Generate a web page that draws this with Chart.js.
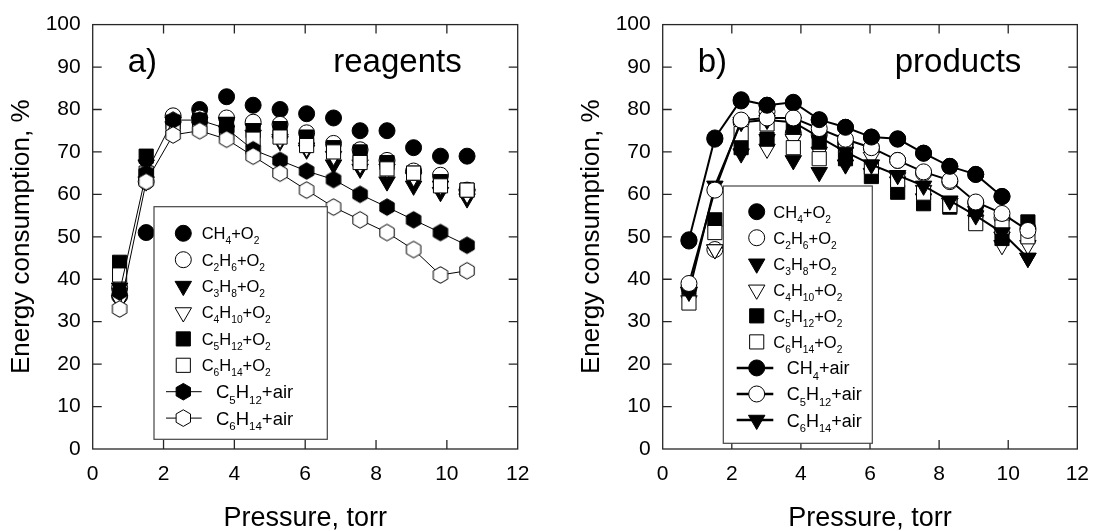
<!DOCTYPE html>
<html><head><meta charset="utf-8">
<script src="https://cdn.jsdelivr.net/npm/chart.js@4.4.1/dist/chart.umd.min.js"></script>
<style>
html,body{margin:0;padding:0;background:#fff;}
#wrap{position:relative;width:1102px;height:531px;overflow:hidden;}
canvas{position:absolute;top:0;}
</style></head><body>
<div id="wrap">
<canvas id="c1" width="551" height="531" style="left:0"></canvas>
<canvas id="c2" width="551" height="531" style="left:551px"></canvas>
</div>
<script>
// ---------------- data ----------------
const pressure = [0.76, 1.51, 2.27, 3.02, 3.78, 4.53, 5.29, 6.04, 6.8, 7.55, 8.31, 9.06, 9.82, 10.57];
const xTicks = [0, 2, 4, 6, 8, 10, 12];
const yTicks = [0, 10, 20, 30, 40, 50, 60, 70, 80, 90, 100];

// panel a) reagents
const aCH4_O2    = [36, 51, null, 80, 83, 81, 80, 79, 78, 75, 75, 71, 69, 69];
const aC2H6_O2   = [38, 63, 78.5, 78, 78, 77, 76.5, 74.5, 72, 70.5, 68, 65.5, 64.5, 61];
const aC3H8_O2   = [38, 67, 77, 77, 77, 75.5, 72.5, 70.5, 67, 66, 63, 62, 60.5, 59];
const aC4H10_O2  = [35, 63, 76, 76, 75, 74, 73, 71, 69, 67, 66, 64, 62, 60];
const aC5H12_O2  = [44, 69, 77, 77.5, 76.5, 75, 75.5, 73.5, 71, 70, 67.5, 65, 63, 61];
const aC6H14_O2  = [41, 65, 76, 76, 74.5, 73, 73.5, 71.5, 70, 67.5, 66, 65, 62, 61];
const aC5H12_air = [37, 65, 77.5, 77.5, 75.5, 70.5, 68, 65.5, 63.5, 60, 57, 54, 51, 48];
const aC6H14_air = [33, 63, 74, 75, 73, 69, 65, 61, 57, 54, 51, 47, 41, 42];

// panel b) products
const bCH4_O2    = [49, 73, 82, 81, 81.5, 77.5, 75.8, 73.5, 73, 69.7, 66.6, 64.7, 59.5, null];
const bC2H6_O2   = [38, 47, 77, 79.5, 74.4, 74, 72, 71, 68, 65, 63, 58, 54.5, 52];
const bC3H8_O2   = [37, 47, 69.6, 73, 68, 65.2, 67, 65, 63, 59, 58, 56, 50, 45];
const bC4H10_O2  = [35, 47, 76.5, 70.7, 73, 70, 70, 68.8, 64, 61, 58, 54, 48, 48];
const bC5H12_O2  = [38, 54, 71, 73, 76, 72.3, 68.4, 64.2, 60.5, 57.8, 57, 56, 49.6, 53.5];
const bC6H14_O2  = [34.4, 51, 74.3, 76.6, 71, 68.4, 71.5, 66.4, 63.3, 60.3, 57.4, 53.1, 52.3, 50];
const bCH4_air   = [49.3, 73.3, 82.3, 81, 81.7, 77.6, 75.8, 73.5, 73.1, 69.7, 66.6, 64.7, 59.5, null];
const bC5H12_air = [39, 61, 77.5, 78, 78, 75.5, 73, 71, 68, 65.3, 63.3, 58.2, 55.5, 51.5];
const bC6H14_air = [37, 62, 77, 77.5, 77, 73.5, 70, 67, 64.5, 62, 58.5, 55, 51, 45];

// ---------------- styling helpers ----------------
const FONT = '"Liberation Sans", Arial, Helvetica, sans-serif';
const SIZES = {circle: 8, tri: 9.5, rect: 10, hex: 8.3};

function hexCanvas(filled) {
  const c = document.createElement('canvas');
  c.width = 20; c.height = 20;
  const g = c.getContext('2d');
  hexPath(g, 10, 10, SIZES.hex);
  g.fillStyle = filled ? '#000' : '#fff';
  g.fill();
  g.lineWidth = 1; g.strokeStyle = '#000'; g.stroke();
  return c;
}
function hexPath(g, x, y, r) {
  g.beginPath();
  for (let k = 0; k < 6; k++) {
    const a = Math.PI / 2 + k * Math.PI / 3;
    const px = x + r * Math.cos(a), py = y - r * Math.sin(a);
    if (k === 0) g.moveTo(px, py); else g.lineTo(px, py);
  }
  g.closePath();
}
const HEX_F = hexCanvas(true), HEX_O = hexCanvas(false);

function pts(vals) {
  const out = [];
  vals.forEach((v, i) => { if (v !== null) out.push({x: pressure[i], y: v}); });
  return out;
}
function ds(label, vals, style, filled, line, lw, order) {
  const o = {
    label, data: pts(vals), order,
    showLine: !!line, borderColor: '#000', borderWidth: lw || 1,
    pointBackgroundColor: filled ? '#000' : '#fff',
    pointBorderColor: '#000', pointBorderWidth: 1,
    tension: 0, fill: false
  };
  if (style === 'circle') { o.pointStyle = 'circle'; o.pointRadius = SIZES.circle; }
  if (style === 'tri') { o.pointStyle = 'triangle'; o.pointRotation = 180; o.pointRadius = SIZES.tri; }
  if (style === 'rect') { o.pointStyle = 'rect'; o.pointRadius = SIZES.rect; }
  if (style === 'hex') { o.pointStyle = filled ? HEX_F : HEX_O; o.pointRadius = SIZES.hex; }
  o.pointHoverRadius = o.pointRadius;
  return o;
}

function drawMarker(g, style, filled, x, y) {
  g.save();
  g.beginPath();
  if (style === 'circle') g.arc(x, y, SIZES.circle, 0, Math.PI * 2);
  else if (style === 'tri') {
    const r = SIZES.tri;
    let rad = Math.PI;
    g.moveTo(x + Math.sin(rad) * r, y - Math.cos(rad) * r);
    rad += 2 * Math.PI / 3; g.lineTo(x + Math.sin(rad) * r, y - Math.cos(rad) * r);
    rad += 2 * Math.PI / 3; g.lineTo(x + Math.sin(rad) * r, y - Math.cos(rad) * r);
    g.closePath();
  } else if (style === 'rect') {
    const s = SIZES.rect * Math.SQRT1_2;
    g.rect(x - s, y - s, 2 * s, 2 * s);
  } else if (style === 'hex') hexPath(g, x, y, SIZES.hex);
  g.fillStyle = filled ? '#000' : '#fff';
  g.fill();
  g.lineWidth = 1; g.strokeStyle = '#000'; g.stroke();
  g.restore();
}

function drawChem(g, text, x, y, size) {
  let cx = x;
  for (const ch of text) {
    const sub = /[0-9]/.test(ch);
    const fs = sub ? size * 0.62 : size;
    g.font = fs + 'px ' + FONT;
    g.fillText(ch, cx, y + (sub ? size * 0.3 : 0));
    cx += g.measureText(ch).width;
  }
}

// frame, ticks, titles, panel labels, legend
const panelPlugin = {
  id: 'panel',
  beforeDatasetsDraw(chart) {
    const g = chart.ctx, a = chart.chartArea;
    const xs = chart.scales.x, ys = chart.scales.y;
    g.save();
    g.strokeStyle = '#262626'; g.lineWidth = 1.3;
    g.strokeRect(a.left, a.top, a.right - a.left, a.bottom - a.top);
    g.beginPath();
    const TL = 9;
    xTicks.forEach(v => {
      if (v === xs.min || v === xs.max) return;
      const px = xs.getPixelForValue(v);
      g.moveTo(px, a.bottom); g.lineTo(px, a.bottom - TL);
      g.moveTo(px, a.top); g.lineTo(px, a.top + TL);
    });
    yTicks.forEach(v => {
      if (v === ys.min || v === ys.max) return;
      const py = ys.getPixelForValue(v);
      g.moveTo(a.left, py); g.lineTo(a.left + TL, py);
      g.moveTo(a.right, py); g.lineTo(a.right - TL, py);
    });
    g.stroke();
    g.restore();
  },
  afterDatasetsDraw(chart) {
    const cfg = chart.options.plugins.panel;
    const g = chart.ctx;
    const L = cfg.legend;
    g.save();
    g.fillStyle = '#fff';
    g.fillRect(L.box[0], L.box[1], L.box[2] - L.box[0], L.box[3] - L.box[1]);
    g.strokeStyle = '#444'; g.lineWidth = 1.2;
    g.strokeRect(L.box[0], L.box[1], L.box[2] - L.box[0], L.box[3] - L.box[1]);
    L.items.forEach((it, i) => {
      const y = L.y0 + i * L.dy;
      if (it.line) {
        g.beginPath(); g.strokeStyle = '#000'; g.lineWidth = L.lineW;
        g.moveTo(L.lineX[0], y); g.lineTo(L.lineX[1], y); g.stroke();
      }
      drawMarker(g, it.style, it.filled, L.mx, y);
      g.fillStyle = '#000'; g.textAlign = 'left'; g.textBaseline = 'alphabetic';
      if (it.line) drawChem(g, it.label, L.tx2, y + L.airSize * 0.36, L.airSize);
      else drawChem(g, it.label, L.tx, y + L.size * 0.36, L.size);
    });
    g.restore();
  },
  afterDraw(chart) {
    const cfg = chart.options.plugins.panel;
    const g = chart.ctx, a = chart.chartArea;
    g.save();
    g.fillStyle = '#000';
    // axis titles
    g.font = '26px ' + FONT;
    g.textAlign = 'center'; g.textBaseline = 'middle';
    g.translate(a.left - 71, (a.top + a.bottom) / 2);
    g.rotate(-Math.PI / 2);
    g.fillText('Energy consumption, %', 0, 0);
    g.setTransform(1, 0, 0, 1, 0, 0);
    g.font = '27px ' + FONT;
    g.textBaseline = 'alphabetic';
    g.fillText('Pressure, torr', (a.left + a.right) / 2, 526);
    // panel labels
    g.font = '33px ' + FONT;
    g.textAlign = 'left';
    g.fillText(cfg.tag, a.left + 35, 72);
    g.textAlign = 'right';
    g.fillText(cfg.name, a.right - 56, 72);
    g.restore();
  }
};

function makeChart(id, datasets, leftW, rightPad, panelCfg) {
  return new Chart(document.getElementById(id), {
    type: 'line',
    data: {datasets},
    plugins: [panelPlugin],
    options: {
      responsive: false, animation: false, events: [],
      layout: {padding: {left: 0, right: rightPad, top: 24, bottom: 0}},
      plugins: {legend: {display: false}, tooltip: {enabled: false}, panel: panelCfg},
      scales: {
        x: {
          type: 'linear', min: 0, max: 12,
          afterBuildTicks(s) { s.ticks = xTicks.map(v => ({value: v})); },
          ticks: {autoSkip: false, maxRotation: 0, color: '#000', padding: 13, font: {family: FONT, size: 21}},
          grid: {display: false, drawTicks: false}, border: {display: false},
          afterFit(s) { s.height = 82; }
        },
        y: {
          type: 'linear', min: 0, max: 100,
          afterBuildTicks(s) { s.ticks = yTicks.map(v => ({value: v})); },
          ticks: {autoSkip: false, color: '#000', padding: 12, font: {family: FONT, size: 21}},
          grid: {display: false, drawTicks: false}, border: {display: false},
          afterFit(s) { s.width = leftW; }
        }
      }
    }
  });
}

const N = 20;
makeChart('c1', [
  ds('CH4+O2', aCH4_O2, 'circle', true, false, 1, N - 0),
  ds('C2H6+O2', aC2H6_O2, 'circle', false, false, 1, N - 1),
  ds('C3H8+O2', aC3H8_O2, 'tri', true, false, 1, N - 2),
  ds('C4H10+O2', aC4H10_O2, 'tri', false, false, 1, N - 3),
  ds('C5H12+O2', aC5H12_O2, 'rect', true, false, 1, N - 4),
  ds('C6H14+O2', aC6H14_O2, 'rect', false, false, 1, N - 5),
  ds('C5H12+air', aC5H12_air, 'hex', true, true, 1, N - 6),
  ds('C6H14+air', aC6H14_air, 'hex', false, true, 1, N - 7)
], 92.7, 33.3, {
  tag: 'a)', name: 'reagents',
  legend: {
    box: [154, 206.7, 327.3, 439.3], mx: 183.3, tx: 201.7, tx2: 216, lineX: [166, 201.7], lineW: 1,
    y0: 233.3, dy: 26.4, size: 16.5, airSize: 18.5,
    items: [
      {label: 'CH4+O2', style: 'circle', filled: true},
      {label: 'C2H6+O2', style: 'circle', filled: false},
      {label: 'C3H8+O2', style: 'tri', filled: true},
      {label: 'C4H10+O2', style: 'tri', filled: false},
      {label: 'C5H12+O2', style: 'rect', filled: true},
      {label: 'C6H14+O2', style: 'rect', filled: false},
      {label: 'C5H12+air', style: 'hex', filled: true, line: true},
      {label: 'C6H14+air', style: 'hex', filled: false, line: true}
    ]
  }
});

makeChart('c2', [
  ds('CH4+O2', bCH4_O2, 'circle', true, false, 1, N - 0),
  ds('C2H6+O2', bC2H6_O2, 'circle', false, false, 1, N - 1),
  ds('C3H8+O2', bC3H8_O2, 'tri', true, false, 1, N - 2),
  ds('C4H10+O2', bC4H10_O2, 'tri', false, false, 1, N - 3),
  ds('C5H12+O2', bC5H12_O2, 'rect', true, false, 1, N - 4),
  ds('C6H14+O2', bC6H14_O2, 'rect', false, false, 1, N - 5),
  ds('C6H14+air', bC6H14_air, 'tri', true, true, 2, N - 6),
  ds('C5H12+air', bC5H12_air, 'circle', false, true, 2, N - 7),
  ds('CH4+air', bCH4_air, 'circle', true, true, 2, N - 8)
], 111.7, 14.3, {
  tag: 'b)', name: 'products',
  legend: {
    box: [172.3, 186, 321.3, 443.3], mx: 205.7, tx: 222.3, tx2: 235.7, lineX: [185.7, 222.3], lineW: 2.5,
    y0: 211.7, dy: 26.04, size: 16.5, airSize: 18,
    items: [
      {label: 'CH4+O2', style: 'circle', filled: true},
      {label: 'C2H6+O2', style: 'circle', filled: false},
      {label: 'C3H8+O2', style: 'tri', filled: true},
      {label: 'C4H10+O2', style: 'tri', filled: false},
      {label: 'C5H12+O2', style: 'rect', filled: true},
      {label: 'C6H14+O2', style: 'rect', filled: false},
      {label: 'CH4+air', style: 'circle', filled: true, line: true},
      {label: 'C5H12+air', style: 'circle', filled: false, line: true},
      {label: 'C6H14+air', style: 'tri', filled: true, line: true}
    ]
  }
});
</script>
</body></html>
